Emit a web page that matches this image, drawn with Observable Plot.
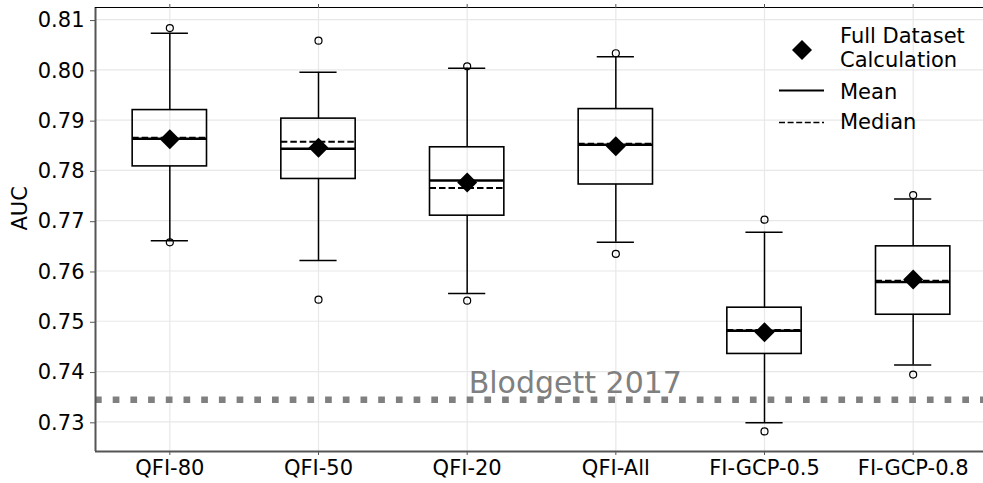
<!DOCTYPE html>
<html>
<head>
<meta charset="utf-8">
<script src="https://cdn.jsdelivr.net/npm/d3@7"></script>
<script src="https://cdn.jsdelivr.net/npm/@observablehq/plot@0.6"></script>
<style>
  html, body { margin: 0; padding: 0; background: white; }
  #wrap { position: relative; width: 983px; height: 483px; overflow: hidden; font-family: "DejaVu Sans", sans-serif; }
  #legend { position: absolute; left: 0; top: 0; }
</style>
</head>
<body>
<div id="wrap"></div>
<script>
const categories = ["QFI-80", "QFI-50", "QFI-20", "QFI-All", "FI-GCP-0.5", "FI-GCP-0.8"];
const whiskerLow  = [0.7660, 0.7621, 0.7555, 0.7657, 0.7298, 0.7413];
const q1          = [0.7808, 0.7783, 0.7710, 0.7772, 0.7435, 0.7513];
const medianVals  = [0.7865, 0.7857, 0.7765, 0.7853, 0.7483, 0.7581];
const meanVals    = [0.7863, 0.7843, 0.7780, 0.7851, 0.7481, 0.7578];
const q3          = [0.7920, 0.7903, 0.7846, 0.7922, 0.7527, 0.7649];
const whiskerHigh = [0.8073, 0.7995, 0.8003, 0.8026, 0.7677, 0.7743];
const fullDataset = [0.7862, 0.7845, 0.7776, 0.7848, 0.7478, 0.7583];
const outlierLow  = [0.7657, 0.7543, 0.7541, 0.7634, 0.7281, 0.7394];
const outlierHigh = [0.8083, 0.8058, 0.8007, 0.8033, 0.7702, 0.7751];
const blodgett = 0.7344;
const blodgettLabel = "Blodgett 2017";
const yTicks = [0.73, 0.74, 0.75, 0.76, 0.77, 0.78, 0.79, 0.80, 0.81];
const yDomain = [0.7241, 0.8124];
const xDomain = [0.5, 6.5];

const boxes = categories.map((c, i) => ({
  pos: i + 1, cat: c,
  wl: whiskerLow[i], q1: q1[i], med: medianVals[i], mean: meanVals[i],
  q3: q3[i], wh: whiskerHigh[i], full: fullDataset[i]
}));
const outliers = categories.flatMap((c, i) => [
  {pos: i + 1, v: outlierLow[i]},
  {pos: i + 1, v: outlierHigh[i]}
]);
const halfBox = 0.25, halfCap = 0.125;
const FONT = 21;

const chart = Plot.plot({
  width: 983,
  height: 483,
  marginLeft: 95,
  marginRight: -4,
  marginTop: 7,
  marginBottom: 32,
  style: {fontFamily: "DejaVu Sans, sans-serif", background: "white", overflow: "visible"},
  x: {type: "linear", domain: xDomain, range: [95, 987]},
  y: {type: "linear", domain: yDomain, range: [451, 7]},
  marks: [
    // grid
    Plot.ruleY(yTicks, {stroke: "#e8e8e8", strokeWidth: 1.2}),
    Plot.ruleX(boxes.map(d => d.pos), {stroke: "#e8e8e8", strokeWidth: 1.2}),
    // reference line
    Plot.ruleY([blodgett], {x1: xDomain[0], x2: xDomain[1], stroke: "#808080", strokeWidth: 6.5, strokeDasharray: "6.7 11", strokeLinecap: "butt"}),
    Plot.text([blodgettLabel], {x: 3, y: blodgett + 0.00137, dx: 1.5, text: d => d, textAnchor: "start", lineAnchor: "bottom", fill: "#808080", fontSize: 30}),
    // whiskers
    Plot.ruleX(boxes, {x: "pos", y1: "wl", y2: "q1", stroke: "black", strokeWidth: 1.5}),
    Plot.ruleX(boxes, {x: "pos", y1: "q3", y2: "wh", stroke: "black", strokeWidth: 1.5}),
    // caps
    Plot.ruleY(boxes, {y: "wl", x1: d => d.pos - halfCap, x2: d => d.pos + halfCap, stroke: "black", strokeWidth: 1.5}),
    Plot.ruleY(boxes, {y: "wh", x1: d => d.pos - halfCap, x2: d => d.pos + halfCap, stroke: "black", strokeWidth: 1.5}),
    // boxes
    Plot.rect(boxes, {x1: d => d.pos - halfBox, x2: d => d.pos + halfBox, y1: "q1", y2: "q3", fill: "none", stroke: "black", strokeWidth: 1.6}),
    // median (dashed) and mean (solid)
    Plot.ruleY(boxes, {y: "med", x1: d => d.pos - halfBox, x2: d => d.pos + halfBox, stroke: "black", strokeWidth: 1.8, strokeDasharray: "6.5 3"}),
    Plot.ruleY(boxes, {y: "mean", x1: d => d.pos - halfBox, x2: d => d.pos + halfBox, stroke: "black", strokeWidth: 2.4}),
    // full dataset diamonds
    Plot.dot(boxes, {x: "pos", y: "full", symbol: "diamond2", r: 9, fill: "black", stroke: "none"}),
    // outliers
    Plot.dot(outliers, {x: "pos", y: "v", r: 3.5, fill: "none", stroke: "black", strokeWidth: 1.2}),
    // spines
    Plot.ruleX([xDomain[0]], {stroke: "#555", strokeWidth: 2}),
    Plot.ruleY([yDomain[0]], {stroke: "#555", strokeWidth: 2}),
    Plot.ruleY([yDomain[1]], {stroke: "black", strokeWidth: 1.2}),
    // axes
    Plot.axisY(yTicks, {anchor: "left", tickFormat: d3.format(".2f"), tickSize: 5, tickPadding: 6, fontSize: FONT, label: null, color: "black", stroke: "#555", dy: 1}),
    Plot.axisX(boxes.map(d => d.pos), {anchor: "bottom", tickFormat: p => categories[p - 1], tickSize: 4, tickPadding: 5, fontSize: FONT, label: null, color: "black", stroke: "#555"}),
    Plot.axisX(boxes.map(d => d.pos), {anchor: "top", tickFormat: () => "", tickSize: 4, label: null, color: "black", stroke: "#555"}),
    Plot.text(["AUC"], {frameAnchor: "left", dx: -75, dy: 1, rotate: -90, fontSize: FONT, fill: "black", text: d => d})
  ]
});
document.getElementById("wrap").appendChild(chart);

// legend overlay
const ns = "http://www.w3.org/2000/svg";
const leg = document.createElementNS(ns, "svg");
leg.setAttribute("id", "legend");
leg.setAttribute("width", 983);
leg.setAttribute("height", 483);
const lx = 840;
const items = [
  {type: "diamond", y: 50, lines: [["Full Dataset", 42.7], ["Calculation", 66.7]]},
  {type: "solid", y: 90.5, lines: [["Mean", 98.6]]},
  {type: "dashed", y: 122.5, lines: [["Median", 129.4]]}
];
for (const it of items) {
  if (it.type === "diamond") {
    const p = document.createElementNS(ns, "path");
    const cx = 802, cy = it.y, h = 10;
    p.setAttribute("d", `M${cx},${cy - h}L${cx + h},${cy}L${cx},${cy + h}L${cx - h},${cy}Z`);
    p.setAttribute("fill", "black");
    leg.appendChild(p);
  } else {
    const l = document.createElementNS(ns, "line");
    l.setAttribute("x1", 779); l.setAttribute("x2", 824);
    l.setAttribute("y1", it.y); l.setAttribute("y2", it.y);
    l.setAttribute("stroke", "black");
    l.setAttribute("stroke-width", it.type === "solid" ? 2 : 1.6);
    if (it.type === "dashed") l.setAttribute("stroke-dasharray", "6 2.6");
    leg.appendChild(l);
  }
  for (const [txt, by] of it.lines) {
    const t = document.createElementNS(ns, "text");
    t.setAttribute("x", lx); t.setAttribute("y", by);
    t.setAttribute("font-size", FONT);
    t.setAttribute("font-family", "DejaVu Sans, sans-serif");
    t.setAttribute("fill", "black");
    t.textContent = txt;
    leg.appendChild(t);
  }
}
document.getElementById("wrap").appendChild(leg);
</script>
</body>
</html>
